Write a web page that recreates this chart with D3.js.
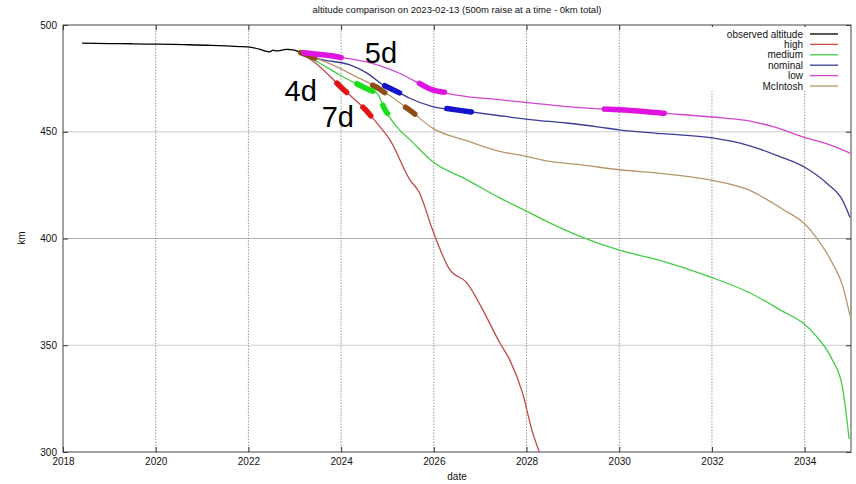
<!DOCTYPE html>
<html>
<head>
<meta charset="utf-8">
<script src="https://cdn.jsdelivr.net/npm/d3@7"></script>
<style>
  body { margin: 0; background: #fff; }
  text { font-family: "Liberation Sans", Arial, sans-serif; }
</style>
</head>
<body>
<svg id="chart" width="856" height="484"></svg>
<script>
// series as [year, km]
const observed = [[2018.41, 491.5], [2019.0, 491.3], [2019.5, 491.2], [2020.03, 491.0], [2020.6, 490.8],
  [2021.2, 490.5], [2021.81, 489.9], [2022.03, 489.6], [2022.25, 488.6], [2022.4, 487.6], [2022.46, 487.4],
  [2022.53, 488.2], [2022.61, 487.9], [2022.74, 488.3], [2022.82, 488.6], [2022.89, 488.5], [2022.97, 488.3],
  [2023.04, 487.9], [2023.11, 487.2]]

const high = [[2023.11, 487.2], [2023.54, 480.5], [2024.01, 470.6], [2024.34, 464.2], [2024.55, 459.8],
  [2024.83, 452.5], [2025.05, 446.3], [2025.48, 427.6], [2025.69, 421.4], [2025.97, 404.2], [2026.34, 385.5],
  [2026.71, 379.3], [2027.05, 366.8], [2027.42, 351.3], [2027.63, 343.5], [2027.91, 327.9], [2028.13, 309.2],
  [2028.28, 299.8]]

const medium = [[2023.11, 487.2], [2023.54, 482.1], [2023.97, 476.6], [2024.51, 470.6], [2024.77, 468.2],
  [2024.96, 459.8], [2025.26, 450.9], [2025.48, 446.3], [2025.97, 436.1], [2026.71, 427.6], [2027.42, 419.0],
  [2028.0, 412.8], [2028.5, 407.3], [2029.14, 401.1], [2030.0, 394.5], [2030.8, 390.2], [2031.99, 381.8],
  [2032.81, 374.6], [2033.52, 366.0], [2033.95, 360.6], [2034.25, 354.3], [2034.59, 343.5], [2034.81, 331.0],
  [2034.96, 306.1]]

const nominal = [[2023.11, 487.2], [2023.54, 484.0], [2024.19, 481.3], [2024.55, 477.6], [2024.9, 472.0],
  [2025.26, 468.2], [2025.48, 465.7], [2025.97, 461.8], [2026.56, 460.0], [2027.42, 457.5], [2028.13, 455.6],
  [2028.86, 454.1], [2029.57, 452.2], [2030.0, 450.9], [2030.93, 449.1], [2032.01, 447.1], [2032.74, 443.9],
  [2033.45, 438.5], [2034.03, 433.0], [2034.47, 426.0], [2034.81, 418.2], [2034.98, 409.8]]

const low = [[2023.11, 487.2], [2023.97, 484.9], [2024.55, 482.7], [2025.26, 477.4], [2025.97, 469.6],
  [2026.71, 466.5], [2027.42, 465.0], [2028.13, 463.4], [2028.86, 461.8], [2029.57, 460.7], [2030.0, 460.3],
  [2030.93, 458.7], [2032.01, 456.9], [2032.74, 455.3], [2033.3, 452.5], [2034.03, 447.1], [2034.59, 443.5],
  [2034.98, 440.0]]

const mcintosh = [[2023.11, 487.2], [2023.82, 481.3], [2024.29, 476.2], [2024.79, 470.6], [2025.5, 459.8],
  [2025.97, 451.7], [2026.71, 445.8], [2027.42, 440.8], [2028.0, 438.5], [2028.5, 436.1], [2029.14, 434.6],
  [2030.0, 432.2], [2030.93, 430.4], [2032.01, 427.2], [2032.74, 423.2], [2033.52, 413.8], [2034.03, 406.2],
  [2034.25, 400.5], [2034.59, 388.8], [2034.81, 378.5], [2034.98, 363.7]]

const seriesNames = ['observed altitude', 'high', 'medium', 'nominal', 'low', 'McIntosh']
const seriesData = [observed, high, medium, nominal, low, mcintosh]

// thick highlighted stretches: [series index, from year, to year]
const highlights = [[5, 2023.13, 2023.43], [4, 2023.2, 2024.0], [4, 2025.69, 2026.23], [4, 2029.68, 2030.97],
  [3, 2024.94, 2025.26], [3, 2026.28, 2026.81], [5, 2024.68, 2024.94], [5, 2025.39, 2025.59],
  [2, 2024.34, 2024.68], [2, 2024.9, 2025.0], [1, 2023.91, 2024.12], [1, 2024.47, 2024.64]]

// annotation texts: [text, year, km]
const notes = [['5d', 2024.51, 482.1], ['4d', 2022.78, 464.6], ['7d', 2023.58, 452.0]]

const xTicks = d3.range(2018, 2035, 2)
const yTicks = [300, 350, 400, 450, 500]

const lineColors = ['#000000', '#c24a48', '#44cc44', '#3c3c98', '#d046d0', '#b8966c']
const blobColors = ['#000000', '#e01414', '#18e018', '#1414cc', '#e014e0', '#8e4c16']

const width = 856
const height = 484
const margin = { top: 25, right: 5, bottom: 32, left: 63 }

const svg = d3.select('#chart')
const x = d3.scaleLinear().domain([2018, 2035]).range([margin.left, width - margin.right])
const y = d3.scaleLinear().domain([300, 500]).range([height - margin.bottom, margin.top])

svg.append('defs').append('clipPath').attr('id', 'plot-clip')
  .append('rect')
  .attr('x', x(2018)).attr('y', y(500))
  .attr('width', x(2035) - x(2018)).attr('height', y(300) - y(500))

// grid
svg.append('g').selectAll('line')
  .data(yTicks.slice(1, -1))
  .join('line')
  .attr('x1', x(2018)).attr('x2', x(2035))
  .attr('y1', d => y(d)).attr('y2', d => y(d))
  .attr('stroke', d => d === 400 ? '#b0b0b0' : '#cccccc').attr('stroke-width', 1)

svg.append('g').selectAll('line')
  .data(xTicks.slice(1))
  .join('line')
  .attr('x1', d => x(d)).attr('x2', d => x(d))
  .attr('y1', y(300)).attr('y2', y(500))
  .attr('stroke', '#9a9a9a').attr('stroke-width', 1).attr('stroke-dasharray', '1.5,1.5')

// axes with inward ticks
svg.append('g')
  .attr('transform', `translate(0,${y(300)})`)
  .call(d3.axisBottom(x).tickValues(xTicks).tickFormat(d3.format('d')).tickSizeInner(-5).tickSizeOuter(0).tickPadding(6))
  .call(g => g.select('.domain').remove())
svg.append('g')
  .attr('transform', `translate(0,${y(500)})`)
  .call(d3.axisTop(x).tickValues(xTicks).tickFormat('').tickSizeInner(-5).tickSizeOuter(0))
  .call(g => g.select('.domain').remove())
svg.append('g')
  .attr('transform', `translate(${x(2018)},0)`)
  .call(d3.axisLeft(y).tickValues(yTicks).tickFormat(d3.format('d')).tickSizeInner(-5).tickSizeOuter(0).tickPadding(6))
  .call(g => g.select('.domain').remove())
svg.append('g')
  .attr('transform', `translate(${x(2035)},0)`)
  .call(d3.axisRight(y).tickValues(yTicks).tickFormat('').tickSizeInner(-5).tickSizeOuter(0))
  .call(g => g.select('.domain').remove())

svg.selectAll('.tick text')
  .attr('font-size', '10px')
  .attr('font-family', '"Liberation Sans", Arial, sans-serif')
  .attr('fill', '#111')
svg.selectAll('.tick line').attr('stroke', '#333')

svg.append('rect')
  .attr('x', x(2018)).attr('y', y(500))
  .attr('width', x(2035) - x(2018)).attr('height', y(300) - y(500))
  .attr('fill', 'none').attr('stroke', '#444').attr('stroke-width', 1)

// legend box hides grid behind it
const legendX = 803
const legendY = 34
const legendStep = 10.4
svg.append('rect')
  .attr('x', 696).attr('y', 27)
  .attr('width', 150).attr('height', 64)
  .attr('fill', '#fff')

// curves
const line = d3.line().curve(d3.curveMonotoneX).x(d => x(d[0])).y(d => y(d[1]))
const plot = svg.append('g').attr('clip-path', 'url(#plot-clip)')

plot.selectAll('path.series')
  .data(seriesData)
  .join('path')
  .attr('class', 'series')
  .attr('d', line)
  .attr('fill', 'none')
  .attr('stroke', (d, i) => lineColors[i])
  .attr('stroke-width', 1.3)
  .attr('stroke-linejoin', 'round')

function kmAt (data, t) {
  for (let i = 0; i < data.length - 1; i++) {
    const a = data[i]
    const b = data[i + 1]
    if (t >= a[0] && t <= b[0]) return a[1] + (b[1] - a[1]) * (t - a[0]) / (b[0] - a[0])
  }
  return data[data.length - 1][1]
}

function stretch (h) {
  const data = seriesData[h[0]]
  const inner = data.filter(d => d[0] > h[1] && d[0] < h[2])
  return [[h[1], kmAt(data, h[1])], ...inner, [h[2], kmAt(data, h[2])]]
}

plot.selectAll('path.blob')
  .data(highlights)
  .join('path')
  .attr('class', 'blob')
  .attr('d', h => line(stretch(h)))
  .attr('fill', 'none')
  .attr('stroke', h => blobColors[h[0]])
  .attr('stroke-width', 5.5)
  .attr('stroke-linecap', 'round')
  .attr('stroke-linejoin', 'round')

// legend
const legend = svg.append('g')
seriesNames.forEach((name, i) => {
  const ly = legendY + i * legendStep
  legend.append('text')
    .attr('x', legendX).attr('y', ly)
    .attr('dy', '0.35em')
    .attr('text-anchor', 'end')
    .attr('font-size', '10px')
    .attr('fill', '#111')
    .text(name)
  legend.append('line')
    .attr('x1', legendX + 7).attr('x2', legendX + 35)
    .attr('y1', ly).attr('y2', ly)
    .attr('stroke', lineColors[i])
    .attr('stroke-width', 1.3)
})

// big annotations
svg.append('g').selectAll('text')
  .data(notes)
  .join('text')
  .attr('x', d => x(d[1]))
  .attr('y', d => y(d[2]))
  .attr('font-size', '29px')
  .attr('fill', '#000')
  .text(d => d[0])

// titles
svg.append('text')
  .attr('x', 457).attr('y', 13)
  .attr('text-anchor', 'middle')
  .attr('font-size', '9.5px')
  .attr('fill', '#111')
  .text('altitude comparison on 2023-02-13 (500m raise at a time - 0km total)')

svg.append('text')
  .attr('x', 457).attr('y', 480)
  .attr('text-anchor', 'middle')
  .attr('font-size', '10px')
  .attr('fill', '#111')
  .text('date')

svg.append('text')
  .attr('transform', 'translate(25,238) rotate(-90)')
  .attr('text-anchor', 'middle')
  .attr('font-size', '10px')
  .attr('fill', '#111')
  .text('km')
</script>
</body>
</html>
